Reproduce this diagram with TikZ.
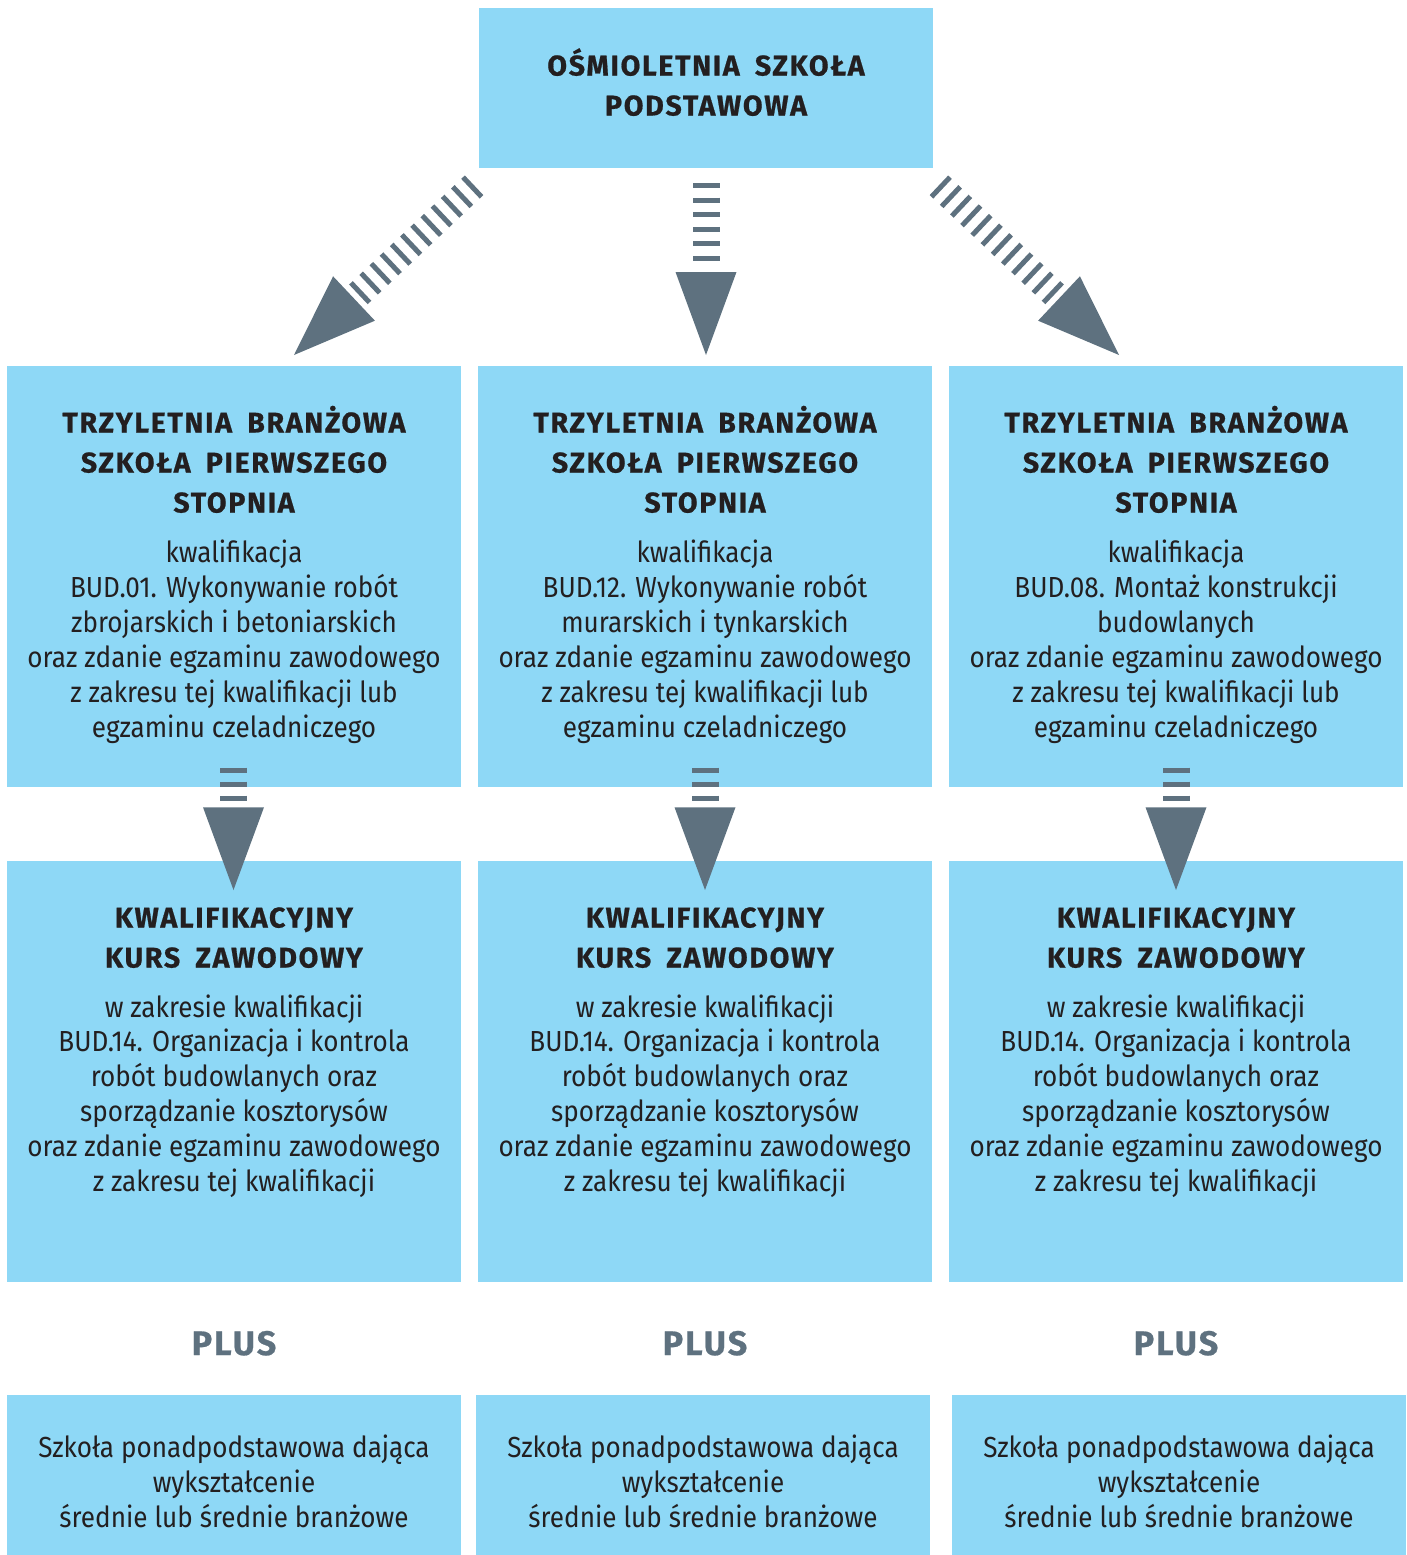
\documentclass[tikz,border=0pt]{standalone}
\usepackage{fontspec}
\setmainfont{Fira Sans}[FakeStretch=0.9]
\newfontfamily\headfont[LetterSpace=6,WordSpace=1.8,BoldFeatures={FakeBold=0.7}]{Fira Sans}
\usetikzlibrary{calc}
\definecolor{boxblue}{HTML}{8ED8F6}
\definecolor{arrowgray}{HTML}{5E717F}
\definecolor{txt}{HTML}{231F20}
\tikzset{
  box/.style={fill=boxblue, draw=none, inner sep=0pt, minimum width=454pt, anchor=north west},
  head/.style={anchor=base, align=center, inner sep=0pt, text=txt, font=\headfont\bfseries\fontsize{28.5}{40}\selectfont},
  body/.style={anchor=base, align=center, inner sep=0pt, text=txt, font=\fontsize{29}{35}\selectfont},
  plus/.style={anchor=base, inner sep=0pt, text=arrowgray, font=\headfont\bfseries\fontsize{34}{40}\selectfont},
  shaft/.style={draw=arrowgray, line width=27pt},
  tipfill/.style={fill=arrowgray, draw=none}
}
\begin{document}
\begin{tikzpicture}[x=1pt,y=-1pt]
\useasboundingbox (0,0) rectangle (1407,1555);
% boxes
\node[box, minimum height=160pt] (top) at (479,8) {};
\foreach \i/\x in {1/7,2/478,3/949}{
  \node[box, minimum height=421pt] (r\i) at (\x,366) {};
  \node[box, minimum height=421pt] (k\i) at (\x,861) {};
}
\node[box, minimum height=160pt] (s1) at (7,1395) {};
\node[box, minimum height=160pt] (s2) at (476,1395) {};
\node[box, minimum height=160pt] (s3) at (952,1395) {};
% top text (anchor base = baseline of last line)
\node[head] (toptext) at (706,115.5) {OŚMIOLETNIA SZKOŁA\\PODSTAWOWA};
\foreach \i/\x in {1/234,2/705,3/1176}{
  \node[head] (rh\i) at (\x,512.5) {TRZYLETNIA BRANŻOWA\\SZKOŁA PIERWSZEGO\\STOPNIA};
  \node[head] (kh\i) at (\x,967.5) {KWALIFIKACYJNY\\KURS ZAWODOWY};
  \node[body, font=\fontsize{29}{34.8}\selectfont] (kb\i) at (\x,1191) {w zakresie kwalifikacji\\BUD.14. Organizacja i kontrola\\robót budowlanych oraz\\sporządzanie kosztorysów\\oraz zdanie egzaminu zawodowego\\z zakresu tej kwalifikacji};
  \node[plus] (plus\i) at (\x,1355) {PLUS};
}
\node[body] (rb1) at (234,737) {kwalifikacja\\BUD.01. Wykonywanie robót\\zbrojarskich i betoniarskich\\oraz zdanie egzaminu zawodowego\\z zakresu tej kwalifikacji lub\\egzaminu czeladniczego};
\node[body] (rb2) at (705,737) {kwalifikacja\\BUD.12. Wykonywanie robót\\murarskich i tynkarskich\\oraz zdanie egzaminu zawodowego\\z zakresu tej kwalifikacji lub\\egzaminu czeladniczego};
\node[body] (rb3) at (1176,737) {kwalifikacja\\BUD.08. Montaż konstrukcji\\budowlanych\\oraz zdanie egzaminu zawodowego\\z zakresu tej kwalifikacji lub\\egzaminu czeladniczego};
\node[body] (sb1) at (234,1527) {Szkoła ponadpodstawowa dająca\\wykształcenie\\średnie lub średnie branżowe};
\node[body] (sb2) at (703,1527) {Szkoła ponadpodstawowa dająca\\wykształcenie\\średnie lub średnie branżowe};
\node[body] (sb3) at (1179,1527) {Szkoła ponadpodstawowa dająca\\wykształcenie\\średnie lub średnie branżowe};
% top arrows
\coordinate (ls) at (474.1,185.3);
\coordinate (lb) at (354,298.5);
\coordinate (lt) at (294,355);
\coordinate (rs) at (938.9,185.3);
\coordinate (rb) at (1059,298.5);
\coordinate (rt) at (1119,355);
\coordinate (ms) at (706,183);
\coordinate (me) at (706,262);
\coordinate (mb) at (706,272);
\coordinate (mt) at (706,355);
\draw[shaft, dash pattern=on 5pt off 9pt] (ls) -- (lb);
\fill[tipfill] ($(lb)!30.5pt!90:(lt)$) -- (lt) -- ($(lb)!30.5pt!-90:(lt)$) -- cycle;
\draw[shaft, dash pattern=on 5pt off 9pt] (rs) -- (rb);
\fill[tipfill] ($(rb)!30.5pt!90:(rt)$) -- (rt) -- ($(rb)!30.5pt!-90:(rt)$) -- cycle;
\draw[shaft, dash pattern=on 5pt off 9.6pt] (ms) -- (me);
\fill[tipfill] ($(mb)!30.5pt!90:(mt)$) -- (mt) -- ($(mb)!30.5pt!-90:(mt)$) -- cycle;
% small arrows
\foreach \i/\x in {1/233.5,2/705,3/1176}{
  \coordinate (ss\i) at (\x,767.5);
  \coordinate (se\i) at (\x,800.5);
  \coordinate (sb\i) at (\x,807.3);
  \coordinate (st\i) at (\x,890);
  \draw[shaft, dash pattern=on 5pt off 9pt] (ss\i) -- (se\i);
  \fill[tipfill] ($(sb\i)!30.5pt!90:(st\i)$) -- (st\i) -- ($(sb\i)!30.5pt!-90:(st\i)$) -- cycle;
}
\end{tikzpicture}
\end{document}
